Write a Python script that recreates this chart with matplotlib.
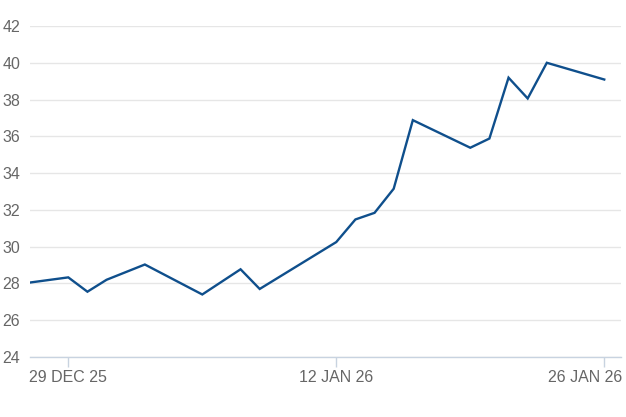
import matplotlib
matplotlib.use('Agg')
import matplotlib.pyplot as plt
import matplotlib.dates as mdates
from matplotlib.transforms import ScaledTranslation
import numpy as np
import pandas as pd

plt.rcParams['font.family'] = ['Liberation Sans', 'DejaVu Sans']

# ── Data ────────────────────────────────────────────────────────────────────
dates = pd.to_datetime([
    '2025-12-26', '2025-12-29', '2025-12-30', '2025-12-31', '2026-01-02',
    '2026-01-05', '2026-01-07', '2026-01-08', '2026-01-12', '2026-01-13',
    '2026-01-14', '2026-01-15', '2026-01-16', '2026-01-19', '2026-01-20',
    '2026-01-21', '2026-01-22', '2026-01-23', '2026-01-26',
])
values = [
    27.91, 28.33, 27.55, 28.20, 29.03,
    27.40, 28.77, 27.70, 30.25, 31.48,
    31.84, 33.15, 36.88, 35.38, 35.88,
    39.19, 38.06, 40.00, 39.09,
]
tick_dates = pd.to_datetime(['2025-12-29', '2026-01-12', '2026-01-26'])
tick_labels = ['29 DEC 25', '12 JAN 26', '26 JAN 26']
y_ticks = np.arange(24, 43, 2)

LINE_COLOR = '#0f4f8c'
TEXT_COLOR = '#666666'
GRID_COLOR = '#e6e6e6'
AXIS_COLOR = '#c8d3e0'

fig = plt.figure(figsize=(6.26, 4.17), dpi=100)
ax = fig.add_axes([30 / 626, (417 - 357) / 417, (621 - 30) / 626, (357 - 26) / 417])

ax.plot(dates, values, color=LINE_COLOR, linewidth=1.7, solid_joinstyle='miter')

ax.set_ylim(24, 42)
ax.set_xlim(pd.Timestamp('2025-12-27'), pd.Timestamp('2026-01-26 21:00'))

ax.set_yticks(y_ticks)
ax.set_yticklabels([str(v) for v in y_ticks])
ax.set_xticks(tick_dates)
ax.set_xticklabels(tick_labels)

ax.grid(axis='y', color=GRID_COLOR, linewidth=1)
ax.set_axisbelow(True)
for side in ['top', 'right', 'left']:
    ax.spines[side].set_visible(False)
ax.spines['bottom'].set_color(AXIS_COLOR)
ax.spines['bottom'].set_linewidth(1)

ax.tick_params(axis='y', length=0, pad=7, labelsize=11.5, labelcolor=TEXT_COLOR)
ax.tick_params(axis='x', length=7, width=1, color=AXIS_COLOR, pad=2,
               labelsize=11.5, labelcolor=TEXT_COLOR)

# last label is nudged left so it stays inside the figure
last = ax.get_xticklabels()[-1]
last.set_horizontalalignment('right')
last.set_transform(last.get_transform() + ScaledTranslation(0.18, 0, fig.dpi_scale_trans))

fig.savefig('out.png', dpi=100)
